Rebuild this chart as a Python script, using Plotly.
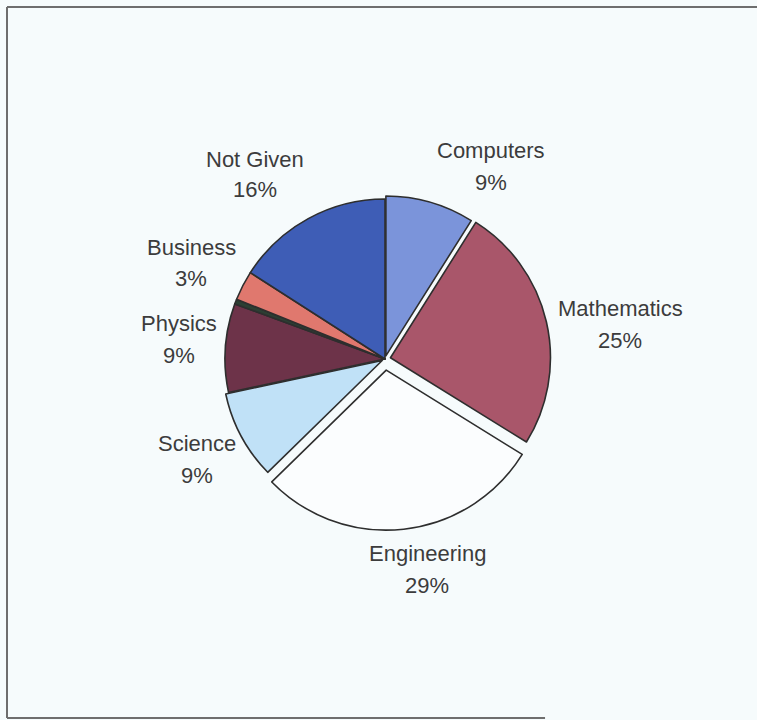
import plotly.graph_objects as go

# Data: field of study breakdown (clockwise from 12 o'clock)
categories = ["Computers", "Mathematics", "Engineering", "Science",
              "Physics", "Other", "Business", "Not Given"]
values = [9, 25, 29, 9, 9, 0.5, 3, 16]
labelled = [True, True, True, True, True, False, True, True]

# Styling
colors = ["#7b94da", "#a9566a", "#fbfdfe", "#c0e1f7",
          "#6d3349", "#2c3f33", "#e0786e", "#3e5db6"]
pulls = [0.02, 0.035, 0.07, 0.02, 0, 0, 0, 0]

W, H = 757, 720
CX, CY, R = 385, 359, 160          # pie centre and radius in pixels

# Label anchor positions (pixels): name line centre, percentage line centre
label_pos = {
    "Computers":   (491, 150, 182),
    "Mathematics": (620, 308, 340),
    "Engineering": (427, 553, 585),
    "Science":     (197, 443, 475),
    "Physics":     (179, 324, 355),
    "Business":    (191, 247, 279),
    "Not Given":   (255, 159, 190),
}

total = sum(values)
half = R * (1 + max(pulls))

fig = go.Figure(go.Pie(
    labels=categories,
    values=values,
    sort=False,
    direction="clockwise",
    rotation=0,
    pull=pulls,
    marker=dict(colors=colors, line=dict(color="#2e2e2e", width=1.6)),
    textinfo="none",
    hoverinfo="label+percent",
    showlegend=False,
    domain=dict(x=[(CX - half) / W, (CX + half) / W],
                y=[1 - (CY + half) / H, 1 - (CY - half) / H]),
))

font = dict(family="Liberation Sans, Arial, sans-serif", size=22, color="#3c3c3c")
annotations = []
for name, v, show in zip(categories, values, labelled):
    if not show:
        continue
    px, ny, py = label_pos[name]
    pct = round(v / total * 100)
    annotations.append(dict(x=px / W, y=1 - ny / H, xref="paper", yref="paper",
                            text=name, showarrow=False, font=font,
                            xanchor="center", yanchor="middle"))
    annotations.append(dict(x=px / W, y=1 - py / H, xref="paper", yref="paper",
                            text=f"{pct}%", showarrow=False, font=font,
                            xanchor="center", yanchor="middle"))

# Frame along the top, left and bottom of the chart area
frame = dict(color="#6e6e6e", width=2)
shapes = [
    dict(type="line", xref="paper", yref="paper", x0=7 / W, x1=1.02, y0=1 - 7 / H, y1=1 - 7 / H, line=frame),
    dict(type="line", xref="paper", yref="paper", x0=7 / W, x1=7 / W, y0=1 - 7 / H, y1=1 - 718 / H, line=frame),
    dict(type="line", xref="paper", yref="paper", x0=7 / W, x1=0.72, y0=1 - 718 / H, y1=1 - 718 / H, line=frame),
]

fig.update_layout(
    width=W, height=H,
    margin=dict(l=0, r=0, t=0, b=0),
    paper_bgcolor="#f6fbfc",
    plot_bgcolor="#f6fbfc",
    annotations=annotations,
    shapes=shapes,
)

fig.write_html("out.html")
